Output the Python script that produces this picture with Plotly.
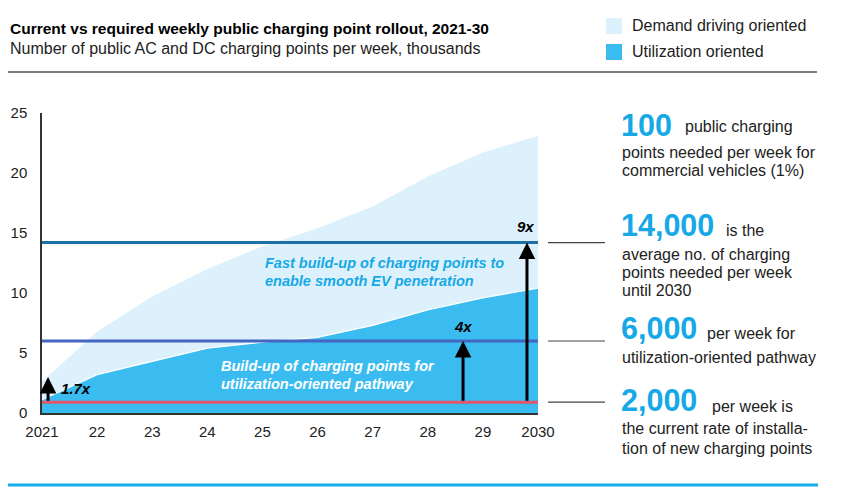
import plotly.graph_objects as go

# ---------------- data ----------------
years = [2021, 2022, 2023, 2024, 2025, 2026, 2027, 2028, 2029, 2030]
year_labels = ["2021", "22", "23", "24", "25", "26", "27", "28", "29", "2030"]
demand_driving = [2.6, 6.8, 9.7, 12.0, 13.9, 15.4, 17.2, 19.7, 21.7, 23.1]
utilization = [1.1, 3.2, 4.3, 5.4, 5.9, 6.3, 7.3, 8.6, 9.6, 10.4]
y_ticks = [0, 5, 10, 15, 20, 25]

level_values = [14.2, 6.0, 0.9]          # required avg, utilization pathway, current rate
level_colors = ["#1d6fa6", "#4664c2", "#e0566c"]

arrow_x = [2021.11, 2028.64, 2029.8]
arrow_top = [3.0, 6.0, 14.2]
arrow_base = 0.9
arrow_labels = ["1.7x", "4x", "9x"]

# ---------------- layout geometry ----------------
W_PX, H_PX = 857, 503
L, R, T, B = 42, 538, 113, 413
PW, PH = R - L, B - T


def px(x):
    return (x - L) / PW


def py(y):
    return (B - y) / PH


FONT = "Liberation Sans, Arial, sans-serif"
LIGHT = "#dcf1fb"
DARK = "#3bbcf0"
BLUE_TXT = "#16a9e6"
TXT = "#222222"
REG = 16

fig = go.Figure()

fig.add_trace(go.Scatter(
    x=years, y=demand_driving, mode="lines", fill="tozeroy",
    fillcolor=LIGHT, line=dict(color=LIGHT, width=0),
    name="Demand driving oriented", hoverinfo="skip"))
fig.add_trace(go.Scatter(
    x=years, y=utilization, mode="lines", fill="tozeroy",
    fillcolor=DARK, line=dict(color="white", width=1.2),
    name="Utilization oriented", hoverinfo="skip"))

shapes = []
annotations = []

# horizontal level lines
for v, c in zip(level_values, level_colors):
    shapes.append(dict(type="line", xref="x", yref="y", x0=years[0], x1=years[-1],
                       y0=v, y1=v, line=dict(color=c, width=3)))
    # connector to right-hand text
    shapes.append(dict(type="line", xref="paper", yref="y", x0=px(548), x1=px(605),
                       y0=v, y1=v, line=dict(color="#444444", width=1.2)))

# arrows
for xa, yt, lab in zip(arrow_x, arrow_top, arrow_labels):
    annotations.append(dict(x=xa, y=yt, ax=xa, ay=arrow_base, xref="x", yref="y",
                            axref="x", ayref="y", text="", showarrow=True,
                            arrowhead=2, arrowsize=1.1, arrowwidth=3,
                            arrowcolor="black", standoff=0))

arrow_label_pos = [(59, 388, "left"), (463, 326, "center"), (525, 226, "center")]
for (xx, yy, anc), lab in zip(arrow_label_pos, arrow_labels):
    annotations.append(dict(x=px(xx), y=py(yy), xref="paper", yref="paper",
                            text=f"<b><i>{lab}</i></b>", showarrow=False,
                            xanchor=anc, yanchor="middle",
                            font=dict(family=FONT, size=15, color="black")))

# inner texts
inner = [
    (263, 263, "Fast build-up of charging points to", BLUE_TXT),
    (263, 281, "enable smooth EV penetration", BLUE_TXT),
    (219, 366, "Build-up of charging points for", "white"),
    (219, 384, "utilization-oriented pathway", "white"),
]
for xx, yy, t, c in inner:
    annotations.append(dict(x=px(xx), y=py(yy), xref="paper", yref="paper",
                            text=f"<b><i>{t}</i></b>", showarrow=False,
                            xanchor="left", yanchor="middle",
                            font=dict(family=FONT, size=14.5, color=c)))

# title and subtitle
annotations.append(dict(x=px(8), y=py(29), xref="paper", yref="paper",
                        text="<b>Current vs required weekly public charging point rollout, 2021-30</b>",
                        showarrow=False, xanchor="left", yanchor="middle",
                        font=dict(family=FONT, size=15.5, color="black")))
annotations.append(dict(x=px(8), y=py(48), xref="paper", yref="paper",
                        text="Number of public AC and DC charging points per week, thousands",
                        showarrow=False, xanchor="left", yanchor="middle",
                        font=dict(family=FONT, size=REG, color=TXT)))

# legend
legend_items = [(26, LIGHT, "Demand driving oriented"), (52, DARK, "Utilization oriented")]
for yy, c, t in legend_items:
    shapes.append(dict(type="rect", xref="paper", yref="paper",
                       x0=px(606), x1=px(622), y0=py(yy - 8), y1=py(yy + 8),
                       fillcolor=c, line=dict(width=0)))
    annotations.append(dict(x=px(630), y=py(yy), xref="paper", yref="paper", text=t,
                            showarrow=False, xanchor="left", yanchor="middle",
                            font=dict(family=FONT, size=REG, color=TXT)))

# separator lines
shapes.append(dict(type="line", xref="paper", yref="paper", x0=px(8), x1=px(817),
                   y0=py(72), y1=py(72), line=dict(color="#555555", width=1.5)))
shapes.append(dict(type="line", xref="paper", yref="paper", x0=px(8), x1=px(818),
                   y0=py(485), y1=py(485), line=dict(color="#14aee8", width=3)))

# right-hand commentary
big = [
    (125, "100", 683, 127, ["public charging"]),
    (225, "14,000", 724, 230, ["is the"]),
    (328, "6,000", 705, 333, ["per week for"]),
    (400, "2,000", 710, 406, ["per week is"]),
]
for yy, num, sx, sy, rest in big:
    annotations.append(dict(x=px(619), y=py(yy), xref="paper", yref="paper",
                            text=f"<b>{num}</b>", showarrow=False,
                            xanchor="left", yanchor="middle",
                            font=dict(family=FONT, size=30.5, color=BLUE_TXT)))
    annotations.append(dict(x=px(sx), y=py(sy), xref="paper", yref="paper",
                            text=rest[0], showarrow=False,
                            xanchor="left", yanchor="middle",
                            font=dict(family=FONT, size=REG, color=TXT)))

lines_right = [
    (152, "points needed per week for"),
    (170, "commercial vehicles (1%)"),
    (254, "average no. of charging"),
    (272, "points needed per week"),
    (290, "until 2030"),
    (357, "utilization-oriented pathway"),
    (429, "the current rate of installa-"),
    (448, "tion of new charging points"),
]
for yy, t in lines_right:
    annotations.append(dict(x=px(620), y=py(yy), xref="paper", yref="paper",
                            text=t, showarrow=False, xanchor="left", yanchor="middle",
                            font=dict(family=FONT, size=REG, color=TXT)))

fig.update_layout(
    width=W_PX, height=H_PX,
    margin=dict(l=L, r=W_PX - R, t=T, b=H_PX - B, pad=0),
    paper_bgcolor="white", plot_bgcolor="white",
    showlegend=False,
    shapes=shapes, annotations=annotations,
    xaxis=dict(range=[years[0], years[-1]], tickvals=years, ticktext=year_labels,
               showgrid=False, zeroline=False, showline=True, linecolor="#333333",
               linewidth=1.5, ticks="", ticklabelstandoff=4,
               tickfont=dict(family=FONT, size=15, color=TXT), fixedrange=True),
    yaxis=dict(range=[0, 25], tickvals=y_ticks, showgrid=False, zeroline=False,
               showline=True, linecolor="#333333", linewidth=1.5, ticks="",
               ticklabelstandoff=10,
               tickfont=dict(family=FONT, size=15, color=TXT), fixedrange=True),
    font=dict(family=FONT),
)

fig.write_html("out.html", config={"displayModeBar": False})
